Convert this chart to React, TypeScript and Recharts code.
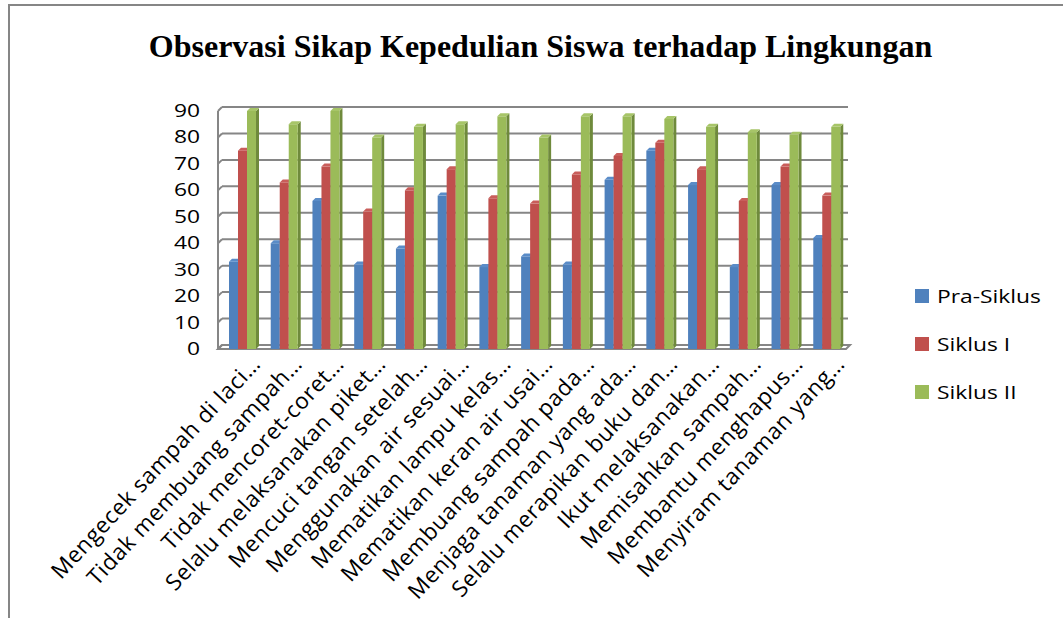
import { BarChart, Bar, XAxis, YAxis, CartesianGrid, Legend } from "recharts";

const categories = [
  "Mengecek sampah di laci…",
  "Tidak membuang sampah…",
  "Tidak mencoret-coret…",
  "Selalu melaksanakan piket…",
  "Mencuci tangan setelah…",
  "Menggunakan air sesuai…",
  "Mematikan lampu kelas…",
  "Mematikan keran air usai…",
  "Membuang sampah pada…",
  "Menjaga tanaman yang ada…",
  "Selalu merapikan buku dan…",
  "Ikut melaksanakan…",
  "Memisahkan sampah…",
  "Membantu menghapus…",
  "Menyiram tanaman yang…",
];
const praSiklus = [33, 40, 56, 32, 38, 58, 31, 35, 32, 64, 75, 62, 31, 62, 42];
const siklusI = [75, 63, 69, 52, 60, 68, 57, 55, 66, 73, 78, 68, 56, 69, 58];
const siklusII = [90, 85, 90, 80, 84, 85, 88, 80, 88, 88, 87, 84, 82, 81, 84];
const yTicks = [0, 10, 20, 30, 40, 50, 60, 70, 80, 90];

const seriesNames = ["Pra-Siklus", "Siklus I", "Siklus II"];

const data = categories.map((name, i) => ({
  name,
  pra: praSiklus[i],
  s1: siklusI[i],
  s2: siklusII[i],
}));

const GRID = "#868686";
const DEPTH = 3;
const WALL = 4;
const STRETCH = 1.2; // axis text in the source is drawn wider than normal

const make3dBar = (front: string, side: string, top: string) => (props: any) => {
  const { x, y, width, height } = props;
  if (!height || height <= 0) return <g />;
  const t = y + 1;
  const f = t + DEPTH;
  const b = y + height + 1 + DEPTH;
  return (
    <g>
      <polygon points={`${x + width},${f} ${x + width + DEPTH},${t} ${x + width + DEPTH},${b - DEPTH} ${x + width},${b}`} fill={side} />
      <rect x={x} y={f} width={width} height={b - f} fill={front} />
      <polygon points={`${x},${f} ${x + DEPTH},${t} ${x + width + DEPTH},${t} ${x + width},${f}`} fill={top} />
    </g>
  );
};

const gridLine = (props: any) => {
  const { x1, y1, x2, y, height, index } = props;
  const isBottom = Math.abs(y1 - (y + height)) < 0.5;
  return (
    <g key={`gl-${index}`}>
      {isBottom ? (
        <polygon
          points={`${x1},${y1} ${x2 + 2},${y1} ${x2 + 2 - WALL},${y1 + WALL} ${x1 - WALL},${y1 + WALL}`}
          fill="#fff"
          stroke={GRID}
          strokeWidth={2}
        />
      ) : (
        <line x1={x1} y1={y1} x2={x2} y2={y1} stroke={GRID} strokeWidth={2} />
      )}
      <line x1={x1 - WALL} y1={y1 + WALL} x2={x1} y2={y1} stroke={GRID} strokeWidth={2} />
      {index === 0 && (
        <line x1={x1 - WALL} y1={y + WALL} x2={x1 - WALL} y2={y + height + WALL} stroke={GRID} strokeWidth={2} />
      )}
    </g>
  );
};

const YTick = ({ x, y, payload }: any) => (
  <g transform={`translate(${x},${y})`}>
    <text x={0} y={0} dy={10} textAnchor="end" transform={`scale(${STRETCH},1)`} fontFamily="Open Sans" fontSize={19} fill="#000">
      {payload.value}
    </text>
  </g>
);

const XTick = ({ x, y, payload }: any) => (
  <g transform={`translate(${x + 19},${y + 20}) rotate(-47)`}>
    <text x={0} y={0} textAnchor="end" fontFamily="Open Sans" fontSize={22.5} letterSpacing={0.6} fill="#000">
      {payload.value}
    </text>
  </g>
);

const LegendBox = ({ payload }: any) => (
  <div style={{ display: "flex", flexDirection: "column" }}>
    {(payload || []).map((p: any) => (
      <div key={p.value} style={{ height: 48, display: "flex", alignItems: "center" }}>
        <span style={{ width: 14, height: 14, background: p.color, marginRight: 8, flex: "none" }} />
        <span
          style={{
            fontFamily: "Open Sans",
            fontSize: 19,
            color: "#000",
            transform: `scaleX(${STRETCH})`,
            transformOrigin: "left center",
            whiteSpace: "nowrap",
          }}
        >
          {p.value}
        </span>
      </div>
    ))}
  </div>
);

export default function App() {
  return (
    <div style={{ position: "absolute", left: 0, top: 0, width: 1063, height: 618, background: "#fff", overflow: "hidden" }}>
      <div
        style={{
          position: "absolute",
          left: 8,
          top: 4,
          width: 1100,
          height: 700,
          borderLeft: `2px solid ${GRID}`,
          borderTop: `2px solid ${GRID}`,
        }}
      />
      <div
        style={{
          position: "absolute",
          left: 9,
          top: 30,
          width: 1063,
          textAlign: "center",
          fontFamily: "Liberation Serif",
          fontWeight: "bold",
          fontSize: 32,
          lineHeight: "32px",
          color: "#000",
        }}
      >
        Observasi Sikap Kepedulian Siswa terhadap Lingkungan
      </div>
      <div style={{ position: "absolute", left: 0, top: 0 }}>
        <BarChart
          width={1063}
          height={618}
          data={data}
          margin={{ top: 107, right: 215, bottom: 0, left: 0 }}
          barSize={9}
          barGap={0}
        >
          <CartesianGrid horizontal={gridLine} vertical={false} />
          <XAxis
            dataKey="name"
            interval={0}
            height={273}
            axisLine={false}
            tickLine={false}
            tickSize={0}
            tickMargin={0}
            tick={<XTick />}
          />
          <YAxis
            domain={[0, 90]}
            ticks={yTicks}
            width={222}
            axisLine={false}
            tickLine={false}
            tickSize={0}
            tickMargin={22}
            tick={<YTick />}
          />
          <Legend
            layout="horizontal"
            verticalAlign="middle"
            align="center"
            wrapperStyle={{ left: 915, top: 272, width: 148 }}
            content={<LegendBox />}
          />
          <Bar dataKey="pra" name={seriesNames[0]} fill="#4F81BD" isAnimationActive={false} shape={make3dBar("#4F81BD", "#3A6394", "#5A8CC8")} />
          <Bar dataKey="s1" name={seriesNames[1]} fill="#C0504D" isAnimationActive={false} shape={make3dBar("#C0504D", "#8E3A38", "#C95E5B")} />
          <Bar dataKey="s2" name={seriesNames[2]} fill="#9BBB59" isAnimationActive={false} shape={make3dBar("#9BBB59", "#6F8A3C", "#A7C568")} />
        </BarChart>
      </div>
    </div>
  );
}
